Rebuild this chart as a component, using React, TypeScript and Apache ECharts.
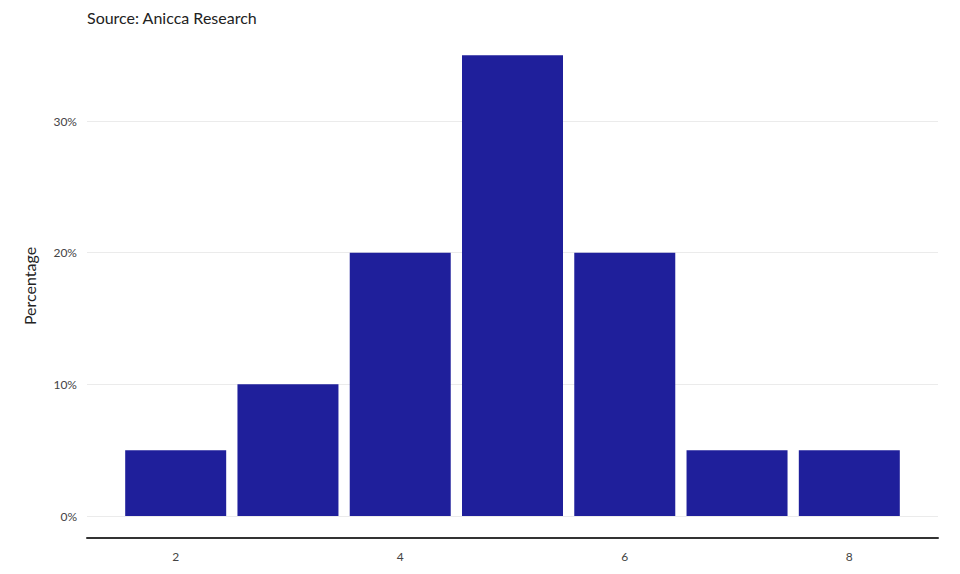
import React, { useEffect, useRef } from "react";
import * as echarts from "echarts";

const xValues = [2, 3, 4, 5, 6, 7, 8];
const percentages = [5, 10, 20, 35, 20, 5, 5];
const yTicks = [0, 10, 20, 30];
const xTicks = [2, 4, 6, 8];
const subtitle = "Source: Anicca Research";
const yName = "Percentage";

export default function App() {
  const ref = useRef<HTMLDivElement>(null);
  useEffect(() => {
    if (!ref.current) return;
    document.body.style.margin = "0";
    const chart = echarts.init(ref.current, null, { renderer: "svg" });
    chart.setOption({
      animation: false,
      backgroundColor: "#ffffff",
      textStyle: { fontFamily: "Lato" },
      title: {
        text: subtitle,
        left: 82,
        top: 4,
        textStyle: { fontFamily: "Lato", fontSize: 16, fontWeight: "normal", color: "#222222" },
      },
      graphic: [
        {
          type: "text",
          x: 29,
          y: 286,
          rotation: Math.PI / 2,
          style: {
            text: yName,
            fontFamily: "Lato",
            fontSize: 16,
            fill: "#222222",
            textAlign: "center",
            textVerticalAlign: "middle",
          },
        },
      ],
      grid: { left: 87, right: 22, top: 42, bottom: 58 },
      xAxis: {
        type: "value",
        min: 1.21,
        max: 8.79,
        offset: 22,
        axisLine: { show: true, onZero: false, lineStyle: { color: "#333333", width: 2 } },
        axisTick: { show: false, customValues: xTicks },
        splitLine: { show: false },
        axisLabel: {
          customValues: xTicks,
          color: "#444444",
          fontSize: 12,
          margin: 12,
          fontFamily: "Lato",
        },
      },
      yAxis: {
        type: "value",
        min: 0,
        max: 36,
        axisLine: { show: false },
        axisTick: { show: false, customValues: yTicks },
        splitLine: { show: true, lineStyle: { color: "#ebebeb", width: 1 } },
        axisLabel: {
          customValues: yTicks,
          formatter: (v: number) => v + "%",
          color: "#444444",
          fontSize: 12,
          margin: 10,
          fontFamily: "Lato",
        },
      },
      series: [
        {
          type: "bar",
          data: xValues.map((x, i) => [x, percentages[i]]),
          barWidth: 101,
          itemStyle: { color: "#1f1f9b" },
        },
      ],
    });
    return () => chart.dispose();
  }, []);
  return <div ref={ref} style={{ width: 960, height: 574 }} />;
}
